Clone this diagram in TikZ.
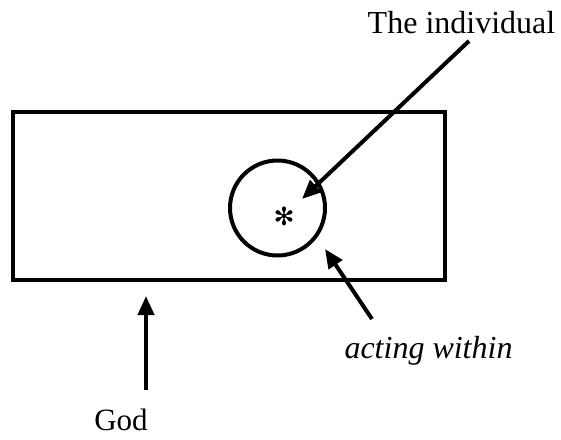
\documentclass[tikz,border=0pt]{standalone}
\usepackage{fontspec}
\setmainfont{Liberation Serif}
\newfontfamily\symfont{DejaVu Sans}
\usetikzlibrary{arrows.meta}
\tikzset{
  thick line/.style={line width=4pt},
  arr/.style={line width=4pt, -{Triangle[length=19pt,width=16pt]}},
  lbl/.style={inner sep=0pt, anchor=base, font=\fontsize{32}{38}\selectfont}
}
\begin{document}
\begin{tikzpicture}[x=1pt,y=-1pt]
\useasboundingbox (0,0) rectangle (561,439);
\node[draw, thick line, minimum width=431.5pt, minimum height=167.5pt, inner sep=0pt] (world) at (228.75,195.75) {};
\node[draw, thick line, circle, minimum size=95pt, inner sep=0pt] (self) at (277.5,208) {};
\node[inner sep=0pt, font=\symfont\fontsize{25}{27}\selectfont] (star) at (284,216.5) {✻};
\node[lbl] (indiv) at (461.5,33) {The individual};
\node[lbl, font=\fontsize{32}{38}\selectfont\itshape] (acting) at (428.5,358) {acting within};
\node[lbl, font=\fontsize{31}{37}\selectfont] (god) at (121,430) {God};
\coordinate (a1s) at (469,41);
\coordinate (a1e) at (302,199);
\coordinate (a2s) at (372,319);
\coordinate (a2e) at (325,249);
\coordinate (a3s) at (146,390);
\coordinate (a3e) at (146,296);
\draw[arr] (a1s) -- (a1e);
\draw[arr] (a2s) -- (a2e);
\draw[arr] (a3s) -- (a3e);
\end{tikzpicture}
\end{document}
